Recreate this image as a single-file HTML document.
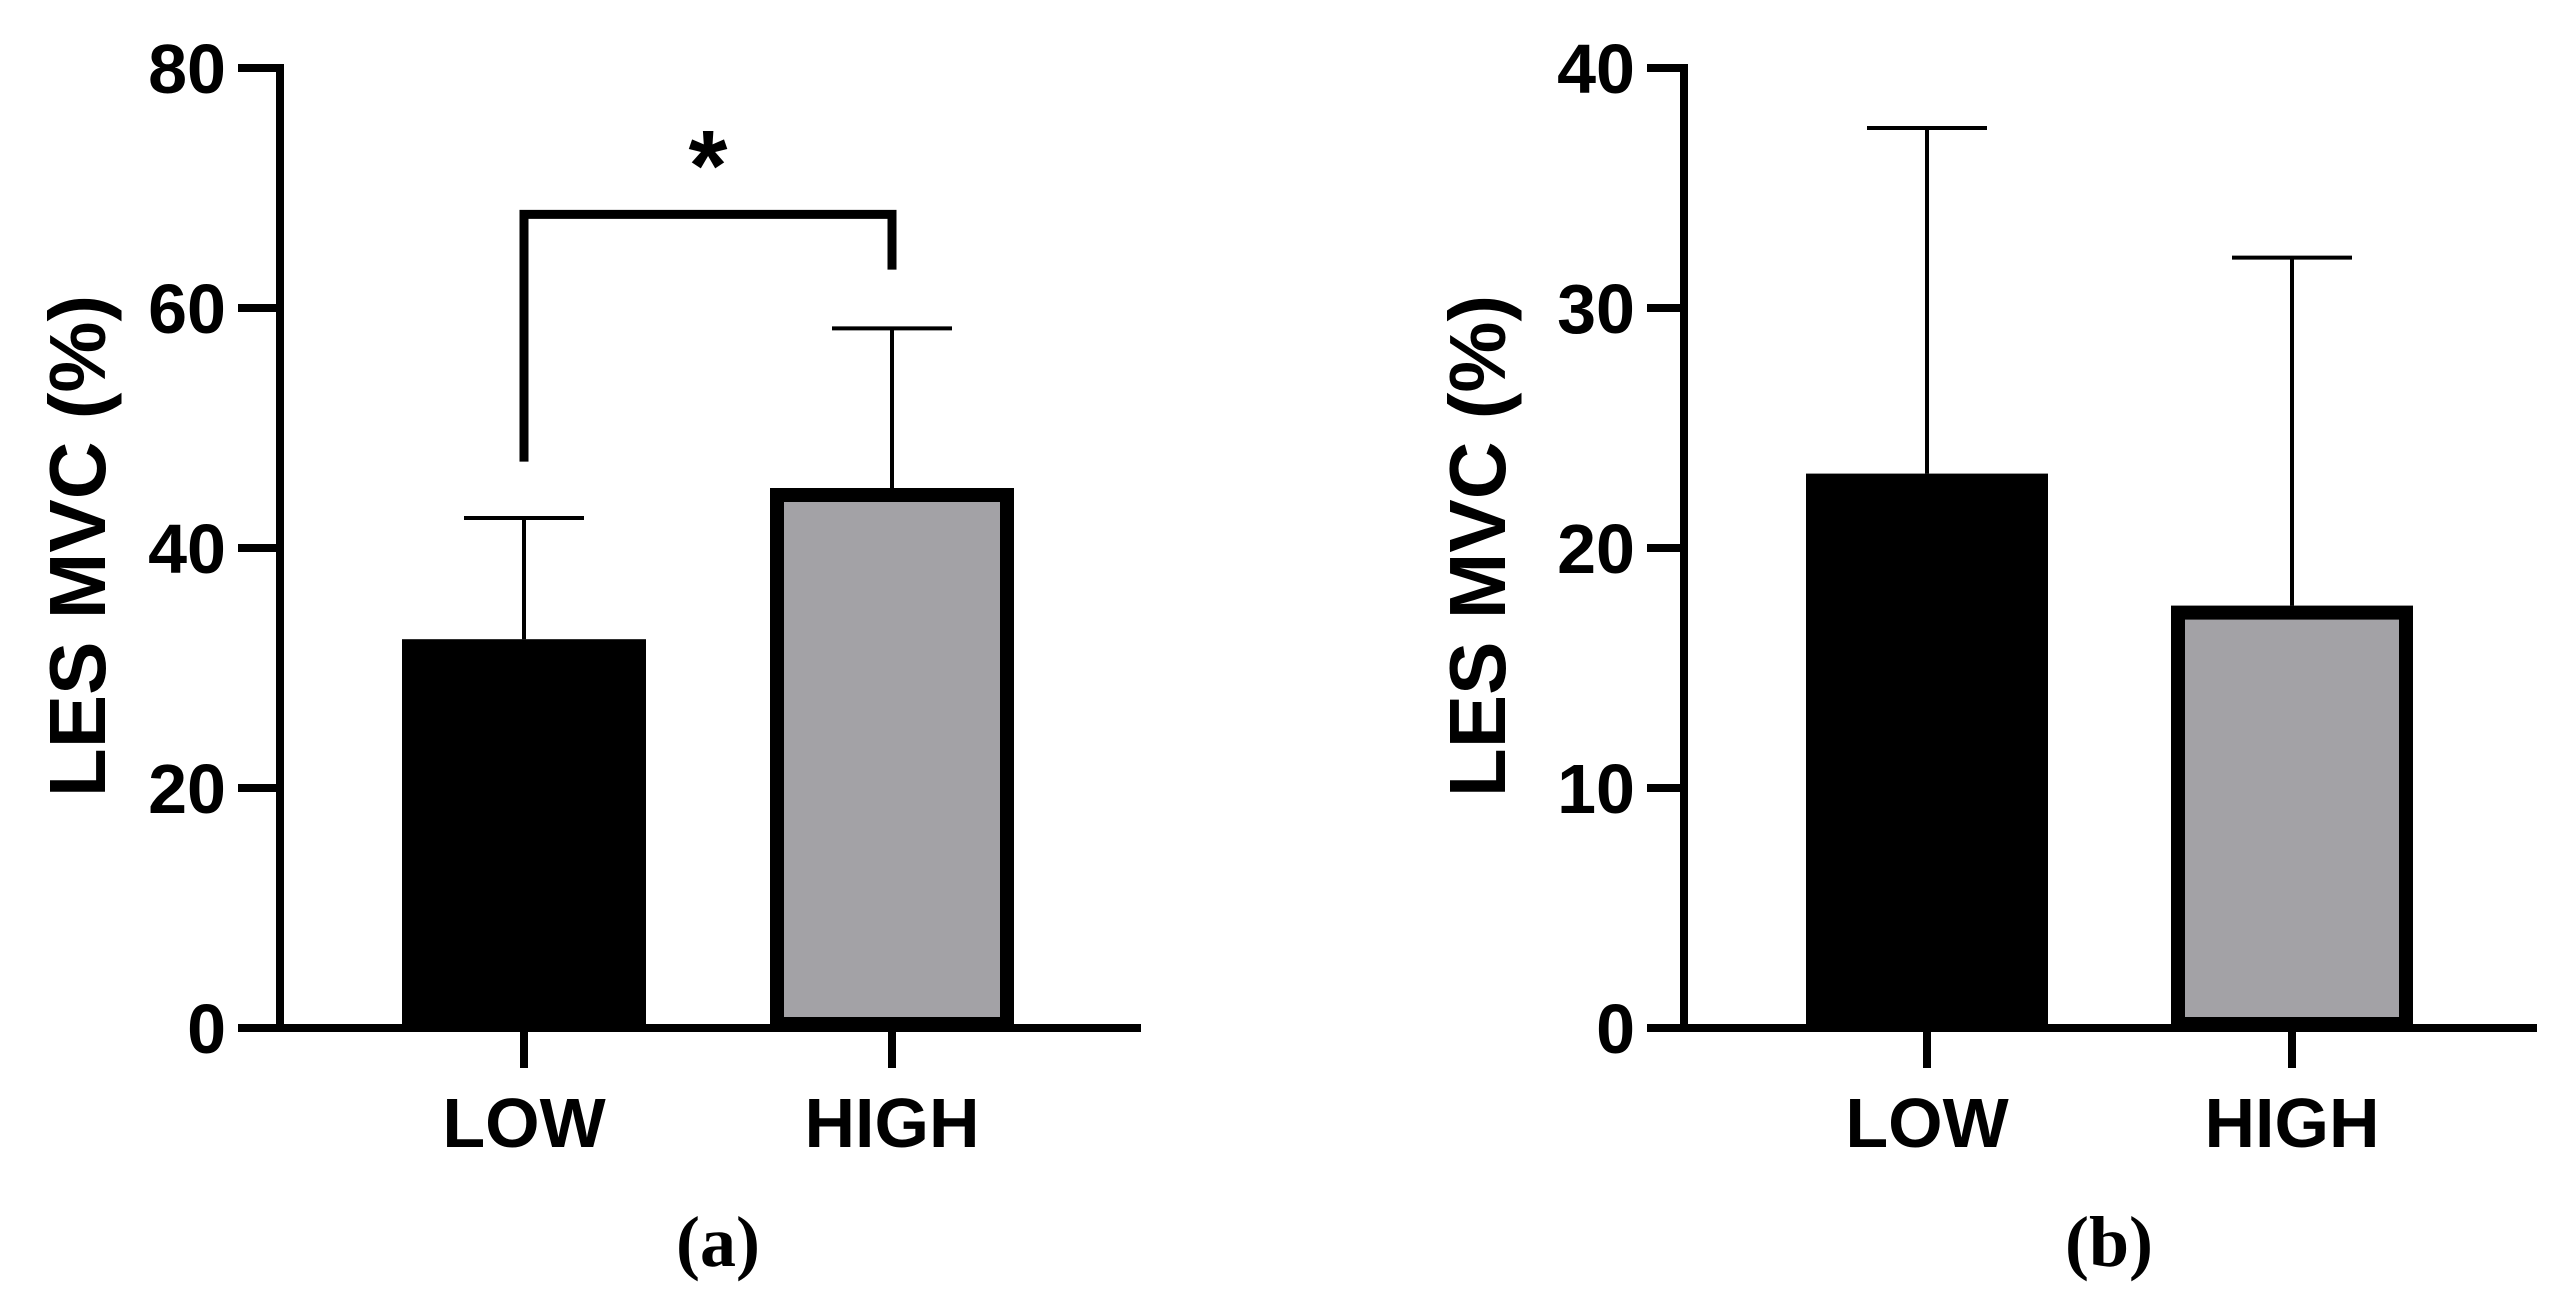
<!DOCTYPE html>
<html><head><meta charset="utf-8"><style>
html,body{margin:0;padding:0;background:#fff;}
svg{display:block;}
</style></head><body>
<svg id="chart" width="2560" height="1306" viewBox="0 0 2560 1306" xmlns="http://www.w3.org/2000/svg"></svg>
<script>
const categories = ["LOW", "HIGH"];
const meansA = [32.4, 45.0];
const errA = [42.5, 58.3];
const meansB = [23.1, 17.6];
const errB = [37.5, 32.1];
const ticksA = [0, 20, 40, 60, 80];
const ticksB = [0, 10, 20, 30, 40];
const tickLabelsA = ["0", "20", "40", "60", "80"];
const tickLabelsB = ["0", "10", "20", "30", "40"];
const sigA = [0, 1];

const NS = "http://www.w3.org/2000/svg";
const svg = document.getElementById('chart');
function mk(tag, attrs, parent, text) {
  const e = document.createElementNS(NS, tag);
  for (const k in attrs) e.setAttribute(k, attrs[k]);
  if (text !== undefined) e.textContent = text;
  (parent || svg).appendChild(e);
  return e;
}
const FONT = '"Liberation Sans", Arial, sans-serif';

function panel(cfg) {
  const g = mk('g', {});
  
  
  const y = v => cfg.y0 - (v / cfg.max) * (cfg.y0 - cfg.yTop);
  const cx = i => cfg.cats[i];
  cfg.means.forEach((m, i) => {
    const c = cx(i), hw = cfg.barHalf;
    if (i === 0) {
      const r = mk('rect', {x: c - hw, y: y(m), width: 2 * hw, height: cfg.y0 - y(m), fill: '#000'}, g);
      
      
    } else {
      const s = 14;
      const r = mk('rect', {x: c - hw + s / 2, y: y(m) + s / 2, width: 2 * hw - s, height: cfg.y0 - 4 - y(m) - s / 2, fill: '#a3a2a6', stroke: '#000', 'stroke-width': s}, g);
      
      
    }
  });
  cfg.errs.forEach((e, i) => {
    const c = cx(i);
    const eg = mk('g', {stroke: '#000', 'stroke-width': 4}, g);
    
    
    mk('line', {x1: c, x2: c, y1: y(cfg.means[i]), y2: y(e)}, eg);
    mk('line', {x1: c - 60, x2: c + 60, y1: y(e), y2: y(e)}, eg);
  });
  const ax = mk('g', {stroke: '#000', 'stroke-width': 8, fill: 'none'}, g);
  
  
  mk('line', {x1: cfg.ax, x2: cfg.ax, y1: y(cfg.max) - 4, y2: cfg.y0 + 4}, ax);
  mk('line', {x1: cfg.tickLeft, x2: cfg.xRight, y1: cfg.y0, y2: cfg.y0}, ax);
  cfg.ticks.forEach((t, i) => {
    mk('line', {x1: cfg.tickLeft, x2: cfg.ax, y1: y(t), y2: y(t)}, ax);
    const tl = mk('text', {x: cfg.tickLeft - 12, y: y(t) + 25, 'text-anchor': 'end', 'font-family': FONT, 'font-weight': 'bold', 'font-size': 70, fill: '#000'}, g, cfg.tickLabels[i]);
    
    
  });
  categories.forEach((c, i) => {
    mk('line', {x1: cx(i), x2: cx(i), y1: cfg.y0, y2: cfg.y0 + 40}, ax);
    const t = mk('text', {x: cx(i), y: 1147, 'text-anchor': 'middle', 'font-family': FONT, 'font-weight': 'bold', 'font-size': 70, fill: '#000'}, g, c);
    
    
  });
  const yt = mk('text', {x: 0, y: 0, transform: `translate(${cfg.titleX + 29},546) rotate(-90)`, 'text-anchor': 'middle', 'font-family': FONT, 'font-weight': 'bold', 'font-size': 80, fill: '#000'}, g, 'LES MVC (%)');
  
  
  const pl = mk('text', {x: cfg.labelX, y: 1266, 'text-anchor': 'middle', 'font-family': '"Liberation Serif", serif', 'font-weight': 'bold', 'font-size': 72, fill: '#000'}, g, cfg.label);
  
  
  return {g, y, cx};
}

const pa = panel({name: 'panel-a', ax: 280, tickLeft: 238, xRight: 1141, y0: 1028, yTop: 68, max: 80,
  cats: [524, 892], barHalf: 122, means: meansA, errs: errA, ticks: ticksA, tickLabels: tickLabelsA,
  titleX: 76, labelX: 718, label: '(a)'});
const sig = mk('g', {}, pa.g);


const bTop = pa.y(67.8);
mk('polyline', {points: `${pa.cx(sigA[0])},${pa.y(47.2)} ${pa.cx(sigA[0])},${bTop} ${pa.cx(sigA[1])},${bTop} ${pa.cx(sigA[1])},${pa.y(63.2)}`, fill: 'none', stroke: '#000', 'stroke-width': 9}, sig);
const ast = mk('text', {x: (pa.cx(sigA[0]) + pa.cx(sigA[1])) / 2, y: 200, 'text-anchor': 'middle', 'font-family': FONT, 'font-weight': 'bold', 'font-size': 100, fill: '#000'}, sig, '*');



panel({name: 'panel-b', ax: 1684, tickLeft: 1647, xRight: 2537, y0: 1028, yTop: 68, max: 40,
  cats: [1927, 2292], barHalf: 121, means: meansB, errs: errB, ticks: ticksB, tickLabels: tickLabelsB,
  titleX: 1476, labelX: 2109, label: '(b)'});
</script>
</body></html>
